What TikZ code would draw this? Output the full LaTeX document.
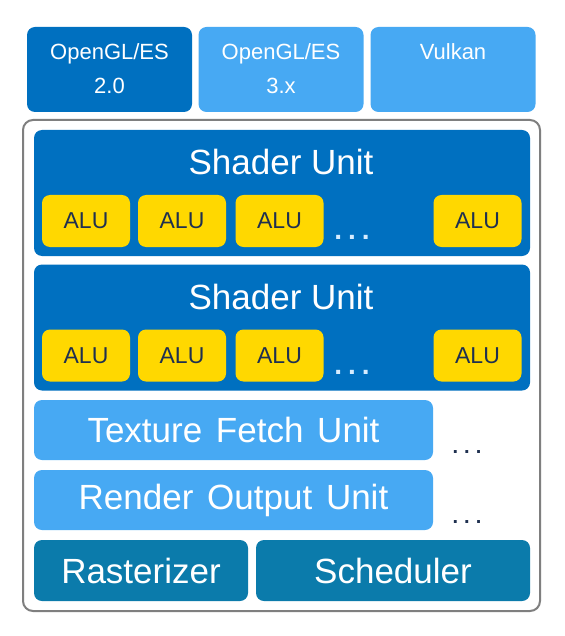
\documentclass[tikz,border=0pt]{standalone}
\usepackage{fontspec}
\setmainfont{Liberation Sans}
\definecolor{dblue}{HTML}{0070C0}
\definecolor{lblue}{HTML}{47A9F3}
\definecolor{teal}{HTML}{0B7BAB}
\definecolor{aluy}{HTML}{FFD800}
\definecolor{navy}{HTML}{1F3050}
\definecolor{frame}{HTML}{7F7F7F}
\definecolor{dotc}{HTML}{D6ECFF}
\tikzset{
  box/.style={rectangle, rounded corners=8pt, inner sep=0pt, draw=none},
  apibox/.style={box, minimum width=165pt, minimum height=85pt},
  shaderbox/.style={box, fill=dblue, minimum width=496pt, minimum height=126pt},
  alubox/.style={box, fill=aluy, minimum width=88pt, minimum height=52pt, font=\fontsize{23}{23}\selectfont, text=navy},
  unitbox/.style={box, fill=lblue, minimum width=399pt, minimum height=60pt, font=\fontsize{35}{35}\selectfont, text=white},
  botbox/.style={box, fill=teal, minimum height=61pt, font=\fontsize{35}{35}\selectfont, text=white},
  title/.style={font=\fontsize{35}{35}\selectfont, text=white, inner sep=0pt},
  apitext/.style={font=\fontsize{22}{34}\selectfont, text=white, align=center, inner sep=0pt, anchor=north},
  sdots/.style={font=\fontsize{28}{28}\selectfont\bfseries, text=dotc, inner sep=0pt},
  udots/.style={font=\fontsize{20}{20}\selectfont\bfseries, text=navy, inner sep=0pt}
}
\begin{document}
\begin{tikzpicture}[x=1pt,y=-1pt]
\useasboundingbox (0,0) rectangle (564,636);
\fill[white] (0,0) rectangle (564,636);
% API boxes
\node[apibox, fill=dblue] (api1) at (109.5,69.5) {};
\node[apibox, fill=lblue] (api2) at (281,69.5) {};
\node[apibox, fill=lblue] (api3) at (453,69.5) {};
\node[apitext] (api1t) at (109.5,43) {OpenGL/ES\\2.0};
\node[apitext] (api2t) at (281,43) {OpenGL/ES\\3.x};
\node[apitext] (api3t) at (453,43) {Vulkan};
% outer frame
\node[rectangle, rounded corners=10pt, draw=frame, line width=2pt, minimum width=517pt, minimum height=491pt] (gpu) at (281.5,365.5) {};
% shader unit 1
\node[shaderbox] (sh1) at (282,193) {};
\node[title] (sh1t) at (281,162) {Shader Unit};
\node[alubox] (a11) at (86,221) {ALU};
\node[alubox] (a12) at (182,221) {ALU};
\node[alubox] (a13) at (279.5,221) {ALU};
\node[sdots] (d1) at (352,237) {.\hspace{6pt}.\hspace{6pt}.};
\node[alubox] (a14) at (477.5,221) {ALU};
% shader unit 2
\node[shaderbox] (sh2) at (282,327.5) {};
\node[title] (sh2t) at (281,297) {Shader Unit};
\node[alubox] (a21) at (86,355.5) {ALU};
\node[alubox] (a22) at (182,355.5) {ALU};
\node[alubox] (a23) at (279.5,355.5) {ALU};
\node[sdots] (d2) at (352,372) {.\hspace{6pt}.\hspace{6pt}.};
\node[alubox] (a24) at (477.5,355.5) {ALU};
% units
\node[unitbox] (tex) at (233.5,430) {Texture\hspace{4pt} Fetch\hspace{4pt} Unit};
\node[udots] (d3) at (467,452) {.\hspace{6pt}.\hspace{6pt}.};
\node[unitbox] (rop) at (233.5,500) {Render\hspace{4pt} Output\hspace{4pt} Unit};
\node[udots] (d4) at (467,522) {.\hspace{6pt}.\hspace{6pt}.};
% bottom
\node[botbox, minimum width=214pt] (ras) at (141,570.5) {Rasterizer};
\node[botbox, minimum width=274pt] (sch) at (393,570.5) {Scheduler};
\end{tikzpicture}
\end{document}
